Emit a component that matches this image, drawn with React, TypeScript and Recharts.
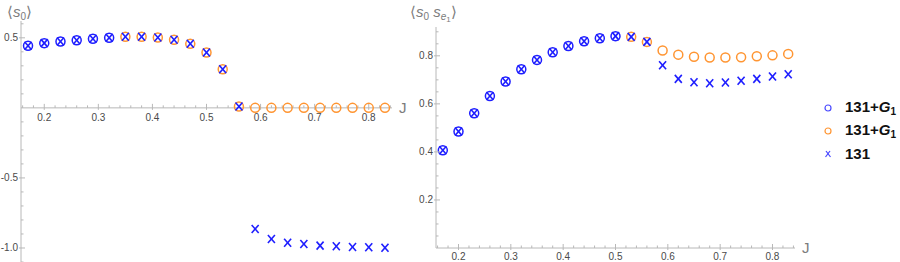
import React from 'react';
import { ScatterChart, Scatter, XAxis, YAxis, ReferenceLine, ReferenceDot } from 'recharts';

// ---- data ----
const J = [0.17, 0.2, 0.23, 0.26, 0.29, 0.32, 0.35, 0.38, 0.41, 0.44, 0.47, 0.5, 0.53, 0.56, 0.59, 0.62, 0.65, 0.68, 0.71, 0.74, 0.77, 0.8, 0.83];
const s0G1 = [0.443, 0.462, 0.474, 0.483, 0.493, 0.5, 0.507, 0.507, 0.502, 0.486, 0.457, 0.395, 0.276, 0.01, 0, 0, 0, 0, 0, 0, 0, 0, 0];
const s0Plain = [0.443, 0.462, 0.474, 0.483, 0.493, 0.5, 0.507, 0.507, 0.502, 0.486, 0.457, 0.395, 0.276, 0.01, -0.864, -0.936, -0.962, -0.971, -0.983, -0.988, -0.993, -0.995, -0.998];
const s0BlueCount = 6;
const corrG1 = [0.407, 0.485, 0.561, 0.633, 0.693, 0.744, 0.783, 0.815, 0.841, 0.861, 0.873, 0.882, 0.879, 0.858, 0.822, 0.805, 0.796, 0.793, 0.793, 0.794, 0.798, 0.802, 0.808];
const corrPlain = [0.407, 0.485, 0.561, 0.633, 0.693, 0.744, 0.783, 0.815, 0.841, 0.861, 0.873, 0.882, 0.879, 0.858, 0.761, 0.704, 0.69, 0.686, 0.689, 0.696, 0.704, 0.714, 0.723];
const corrBlueCount = 12;

const xTicks = [0.16, 0.18, 0.2, 0.22, 0.24, 0.26, 0.28, 0.3, 0.32, 0.34, 0.36, 0.38, 0.4, 0.42, 0.44, 0.46, 0.48, 0.5, 0.52, 0.54, 0.56, 0.58, 0.6, 0.62, 0.64, 0.66, 0.68, 0.7, 0.72, 0.74, 0.76, 0.78, 0.8, 0.82, 0.84];
const xMajor = [0.2, 0.3, 0.4, 0.5, 0.6, 0.7, 0.8];
const leftYTicks = [-1.1, -1.0, -0.9, -0.8, -0.7, -0.6, -0.5, -0.4, -0.3, -0.2, -0.1, 0.1, 0.2, 0.3, 0.4, 0.5, 0.6];
const leftYMajor = [-1.0, -0.5, 0.5];
const rightYTicks = [0.05, 0.1, 0.15, 0.2, 0.25, 0.3, 0.35, 0.4, 0.45, 0.5, 0.55, 0.6, 0.65, 0.7, 0.75, 0.8, 0.85, 0.9];
const rightYMajor = [0.2, 0.4, 0.6, 0.8];

const legendLabels = ['131+G', '131+G', '131'];

// ---- styles ----
const BLUE = '#1e1eff';
const ORANGE = '#ff9532';
const AXIS = '#b8b8b8';
const TICK_TEXT = '#4a4a4a';
const TITLE = '#7c7c7c';
const FONT = '"Liberation Sans", Arial, sans-serif';

const pts = (xs: number[], ys: number[]) => xs.map((x, i) => ({ x, y: ys[i] }));
const isIn = (v: number, arr: number[]) => arr.some((m) => Math.abs(m - v) < 1e-6);
const fmt = (v: number) => (v < 0 ? '-' : '') + Math.abs(v).toFixed(1);

const leftBlue = pts(J.slice(0, s0BlueCount), s0G1.slice(0, s0BlueCount));
const leftOrange = pts(J.slice(s0BlueCount), s0G1.slice(s0BlueCount));
const leftCross = pts(J, s0Plain);
const rightBlue = pts(J.slice(0, corrBlueCount), corrG1.slice(0, corrBlueCount));
const rightOrange = pts(J.slice(corrBlueCount), corrG1.slice(corrBlueCount));
const rightCross = pts(J, corrPlain);

const circleShape = (color: string) => (p: any) => (
  <circle cx={p.cx} cy={p.cy} r={4.5} fill="none" stroke={color} strokeWidth={1.5} />
);
const crossShape = (p: any) => (
  <g stroke={BLUE} strokeWidth={1.6}>
    <line x1={p.cx - 3.5} y1={p.cy - 4} x2={p.cx + 3.5} y2={p.cy + 4} />
    <line x1={p.cx - 3.5} y1={p.cy + 4} x2={p.cx + 3.5} y2={p.cy - 4} />
  </g>
);

const yTick = (majors: number[]) => (p: any) => {
  const v = p.payload.value;
  const major = isIn(v, majors);
  return (
    <g>
      <line x1={major ? p.x - 2 : p.x} x2={p.x + (major ? 4 : 2.5)} y1={p.y} y2={p.y} stroke={AXIS} strokeWidth={1} />
      {major && (
        <text x={p.x - 3} y={p.y} textAnchor="end" dominantBaseline="central" fontSize={10} fill={TICK_TEXT} fontFamily={FONT}>
          {fmt(v)}
        </text>
      )}
    </g>
  );
};

const xTickMark = (cx: number, cy: number, v: number, labelDy: number) => {
  const major = isIn(v, xMajor);
  return (
    <g>
      <line x1={cx} x2={cx} y1={major ? cy + 2 : cy} y2={cy - (major ? 4 : 2.5)} stroke={AXIS} strokeWidth={1} />
      {major && (
        <text x={cx} y={cy + labelDy} textAnchor="middle" dominantBaseline="central" fontSize={10} fill={TICK_TEXT} fontFamily={FONT}>
          {v.toFixed(1)}
        </text>
      )}
    </g>
  );
};

const xTickRight = (p: any) => xTickMark(p.x, p.y, p.payload.value, 8);

const jLabel = { value: 'J', position: 'right' as const, offset: 7, fill: TITLE, fontSize: 15, fontFamily: FONT };

const LegendMarker = ({ kind }: { kind: number }) => (
  <svg width={16} height={18} style={{ display: 'block' }}>
    {kind === 0 && <circle cx={8} cy={9} r={3} fill="none" stroke="#4a4aff" strokeWidth={1.2} />}
    {kind === 1 && <circle cx={8} cy={9} r={3} fill="none" stroke={ORANGE} strokeWidth={1.2} />}
    {kind === 2 && (
      <g stroke="#4a4aff" strokeWidth={1.2}>
        <line x1={5.5} y1={12} x2={10} y2={6} />
        <line x1={6} y1={6} x2={10.5} y2={12} />
      </g>
    )}
  </svg>
);

export default function App() {
  return (
    <div style={{ position: 'absolute', left: 0, top: 0, width: 900, height: 262, background: '#fff', overflow: 'hidden', fontFamily: FONT }}>
      {/* left panel */}
      <div style={{ position: 'absolute', left: 0, top: 0 }}>
        <ScatterChart width={410} height={262} margin={{ top: 21, right: 18, bottom: 0, left: 0 }}>
          <XAxis type="number" dataKey="x" domain={[0.157, 0.843]} allowDataOverflow hide />
          <YAxis
            type="number"
            dataKey="y"
            domain={[-1.1, 0.62]}
            allowDataOverflow
            ticks={leftYTicks}
            interval={0}
            width={21}
            tickSize={0}
            tickMargin={0}
            tickLine={false}
            axisLine={{ stroke: AXIS }}
            tick={yTick(leftYMajor)}
          />
          <ReferenceLine y={0} stroke={AXIS} strokeWidth={1} label={jLabel} />
          {xTicks.map((v) => (
            <ReferenceDot key={v} x={v} y={0} r={0} shape={(p: any) => xTickMark(p.cx, p.cy, v, 9.5)} />
          ))}
          <Scatter data={leftBlue} shape={circleShape(BLUE)} isAnimationActive={false} />
          <Scatter data={leftOrange} shape={circleShape(ORANGE)} isAnimationActive={false} />
          <Scatter data={leftCross} shape={crossShape} isAnimationActive={false} />
        </ScatterChart>
      </div>

      {/* right panel */}
      <div style={{ position: 'absolute', left: 410, top: 0 }}>
        <ScatterChart width={490} height={262} margin={{ top: 27, right: 105, bottom: 0, left: 0 }}>
          <XAxis
            type="number"
            dataKey="x"
            domain={[0.157, 0.843]}
            allowDataOverflow
            ticks={xTicks}
            interval={0}
            height={14}
            tickSize={0}
            tickMargin={0}
            tickLine={false}
            axisLine={false}
            tick={xTickRight}
          />
          <YAxis
            type="number"
            dataKey="y"
            domain={[0, 0.92]}
            allowDataOverflow
            ticks={rightYTicks}
            interval={0}
            width={26}
            tickSize={0}
            tickMargin={0}
            tickLine={false}
            axisLine={{ stroke: AXIS }}
            tick={yTick(rightYMajor)}
          />
          <ReferenceLine y={0} stroke={AXIS} strokeWidth={1} label={jLabel} />
          <Scatter data={rightBlue} shape={circleShape(BLUE)} isAnimationActive={false} />
          <Scatter data={rightOrange} shape={circleShape(ORANGE)} isAnimationActive={false} />
          <Scatter data={rightCross} shape={crossShape} isAnimationActive={false} />
        </ScatterChart>
      </div>

      {/* axis titles */}
      <div style={{ position: 'absolute', left: 7, top: 3, fontSize: 15, color: TITLE, lineHeight: '18px', whiteSpace: 'nowrap' }}>
        {'\u27E8'}
        <i>s</i>
        <span style={{ fontSize: 10, position: 'relative', top: 3 }}>0</span>
        {'\u27E9'}
      </div>
      <div style={{ position: 'absolute', left: 410, top: 3, fontSize: 15, color: TITLE, lineHeight: '18px', whiteSpace: 'nowrap' }}>
        {'\u27E8'}
        <i>s</i>
        <span style={{ fontSize: 10, position: 'relative', top: 3 }}>0</span>
        {' '}
        <i>s</i>
        <span style={{ fontSize: 10, position: 'relative', top: 3 }}>
          <i>e</i>
          <span style={{ fontSize: 8, position: 'relative', top: 2 }}>1</span>
        </span>
        {'\u27E9'}
      </div>

      {/* legend */}
      {legendLabels.map((lab, i) => (
        <div key={i} style={{ position: 'absolute', left: 820, top: 99 + i * 23, height: 18, display: 'flex', alignItems: 'center' }}>
          <LegendMarker kind={i} />
          <span style={{ marginLeft: 9, fontSize: 15, fontWeight: 'bold', color: '#111', lineHeight: '18px', whiteSpace: 'nowrap' }}>
            {i < 2 ? (
              <>
                131+<i>G</i>
                <span style={{ fontSize: 10, position: 'relative', top: 3 }}>1</span>
              </>
            ) : (
              lab
            )}
          </span>
        </div>
      ))}
    </div>
  );
}
